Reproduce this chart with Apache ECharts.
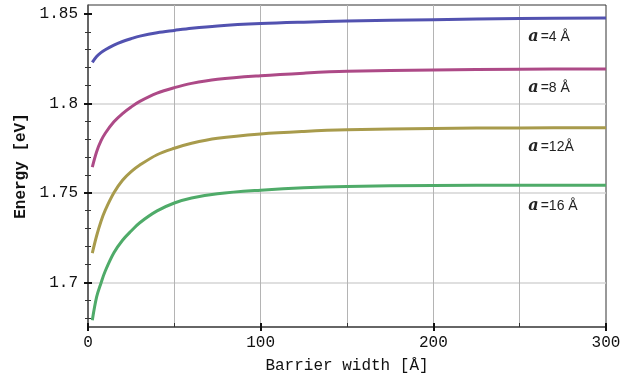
<!DOCTYPE html>
<html>
<head>
<meta charset="utf-8">
<script src="https://cdn.jsdelivr.net/npm/echarts@6/dist/echarts.min.js"></script>
<style>html,body{margin:0;padding:0;background:#fff}#c{width:629px;height:379px}</style>
</head>
<body>
<div id="c"></div>
<script>
const widths = [2.5, 5, 7.5, 10, 15, 20, 25, 30, 40, 50, 60, 75, 100, 125, 150, 200, 250, 300];
const energyA4  = [1.8229,1.8262,1.8284,1.8300,1.8326,1.8346,1.8362,1.8376,1.8395,1.8408,1.8420,1.8433,1.8446,1.8454,1.8460,1.8468,1.8474,1.8478];
const energyA8  = [1.7644,1.7730,1.7790,1.7833,1.7897,1.7943,1.7980,1.8011,1.8057,1.8088,1.8112,1.8135,1.8155,1.8169,1.8179,1.8187,1.8191,1.8192];
const energyA12 = [1.7163,1.7260,1.7340,1.7403,1.7500,1.7570,1.7618,1.7655,1.7713,1.7749,1.7777,1.7805,1.7829,1.7843,1.7852,1.7860,1.7863,1.7864];
const energyA16 = [1.6788,1.6918,1.6995,1.7063,1.7165,1.7235,1.7287,1.7333,1.7399,1.7443,1.7471,1.7495,1.7515,1.7529,1.7536,1.7541,1.7543,1.7543];
const seriesNames = ['4 Å', '8 Å', '12Å', '16 Å'];
const seriesColors = ['#5252b0', '#ad4a87', '#a89b4c', '#4fab69'];
const yMajorTicks = [1.7, 1.75, 1.8, 1.85];
const yMinorTicks = [1.68,1.69,1.71,1.72,1.73,1.74,1.76,1.77,1.78,1.79,1.81,1.82,1.83,1.84];
const yGridValues = [1.7, 1.75, 1.8];
const xMajorTicks = [0, 100, 200, 300];
const xMinorTicks = [50, 150, 250];
const xGridValues = [50, 100, 150, 200, 250];
const labelX = 255;

const mono = '"Courier New", "Liberation Mono", monospace';
const chart = echarts.init(document.getElementById('c'));
const allSeries = [energyA4, energyA8, energyA12, energyA16];

const yBase = {type:'value', min:1.675, max:1.855, position:'left', splitLine:{show:false}};
const xBase = {type:'value', min:0, max:300, position:'bottom', splitLine:{show:false}};

const series = allSeries.map((vals, i) => ({
  type:'line',
  name: seriesNames[i],
  data: widths.map((w, k) => [w, vals[k]]),
  smooth: 0.35,
  showSymbol:false,
  symbol:'none',
  lineStyle:{width:3, color:seriesColors[i]},
  itemStyle:{color:seriesColors[i]},
  z: 3,
  markPoint:{
    symbol:'circle', symbolSize:0, silent:true,
    data:[{coord:[labelX, vals[vals.length-1]]}],
    label:{
      show:true, position:'inside', align:'left', verticalAlign:'middle', offset:[0, i===3?21:19],
      formatter: () => '{a|a}{b|=' + seriesNames[i] + '}',
      rich:{
        a:{fontFamily:'"DejaVu Serif","Liberation Serif",serif', fontStyle:'italic', fontWeight:'bold', fontSize:16, color:'#222', padding:[0,2,0,0]},
        b:{fontFamily:'"Liberation Sans",Arial,sans-serif', fontSize:14, color:'#222'}
      }
    }
  }
}));

chart.setOption({
  animation:false,
  grid:{left:88, right:23, top:5, bottom:52, show:true, borderColor:'#333', borderWidth:1, backgroundColor:'transparent'},
  xAxis:[
    Object.assign({}, xBase, {
      name:'Barrier width [Å]', nameLocation:'middle', nameGap:31,
      nameTextStyle:{fontFamily:mono, fontSize:16, color:'#111'},
      axisLine:{show:true, lineStyle:{color:'#666', width:2}},
      axisTick:{show:true, customValues:xMajorTicks, length:4, lineStyle:{color:'#111', width:2}},
      axisLabel:{customValues:xMajorTicks, margin:8, fontFamily:mono, fontSize:16, color:'#111', formatter:v=>String(v)}
    }),
    Object.assign({}, xBase, {
      axisLine:{show:false}, axisLabel:{show:false},
      axisTick:{show:true, inside:true, customValues:xMajorTicks, length:4, lineStyle:{color:'#111', width:2}}
    }),
    Object.assign({}, xBase, {
      axisLine:{show:false}, axisLabel:{show:false},
      axisTick:{show:true, inside:true, customValues:xMinorTicks, length:4, lineStyle:{color:'#333', width:1}}
    }),
    Object.assign({}, xBase, {
      axisLine:{show:false}, axisLabel:{show:false, customValues:xGridValues},
      axisTick:{show:false, customValues:xGridValues},
      splitLine:{show:true, lineStyle:{color:'#b4b4b4', width:1}}
    })
  ],
  yAxis:[
    Object.assign({}, yBase, {
      name:'Energy [eV]', nameLocation:'middle', nameGap:57,
      nameTextStyle:{fontFamily:mono, fontSize:16, fontWeight:'bold', color:'#111'},
      axisLine:{show:true, lineStyle:{color:'#555', width:1.5}},
      axisTick:{show:true, customValues:yMajorTicks, length:4, lineStyle:{color:'#111', width:2}},
      axisLabel:{customValues:yMajorTicks, margin:10, fontFamily:mono, fontSize:16, color:'#111', formatter:v=>String(+v.toFixed(3))}
    }),
    Object.assign({}, yBase, {
      axisLine:{show:false}, axisLabel:{show:false},
      axisTick:{show:true, inside:true, customValues:yMajorTicks, length:4, lineStyle:{color:'#111', width:2}}
    }),
    Object.assign({}, yBase, {
      axisLine:{show:false}, axisLabel:{show:false},
      axisTick:{show:true, customValues:yMinorTicks, length:3, lineStyle:{color:'#333', width:1}}
    }),
    Object.assign({}, yBase, {
      axisLine:{show:false}, axisLabel:{show:false},
      axisTick:{show:true, inside:true, customValues:yMinorTicks, length:3, lineStyle:{color:'#333', width:1}}
    }),
    Object.assign({}, yBase, {
      axisLine:{show:false}, axisLabel:{show:false, customValues:yGridValues},
      axisTick:{show:false, customValues:yGridValues},
      splitLine:{show:true, lineStyle:{color:'#d4d4d4', width:1.5}}
    })
  ],
  series: series
});
</script>
</body>
</html>
